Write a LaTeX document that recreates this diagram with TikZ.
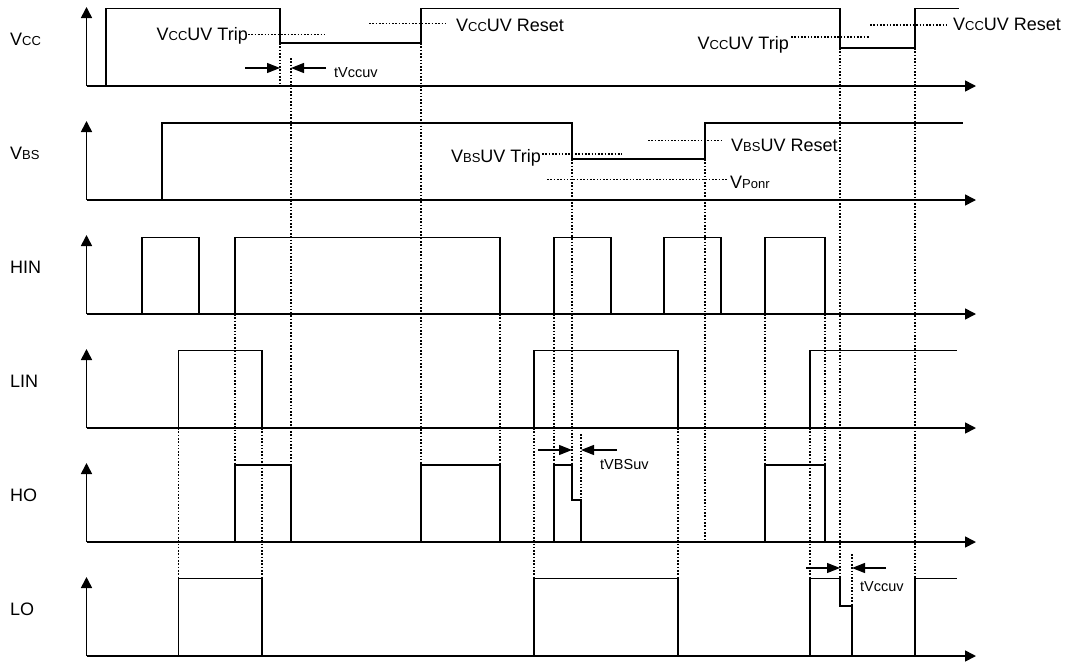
\documentclass[tikz,border=0pt]{standalone}
\usepackage{fontspec}
\setmainfont{Liberation Sans}
\usetikzlibrary{arrows.meta}
\newcommand\sm[1]{{\fontsize{13}{15}\selectfont #1}}
\tikzset{
  sig/.style={line width=1.6pt, line join=miter},
  axis/.style={line width=1.6pt, -{Triangle[length=11pt,width=11pt]}},
  guide/.style={line width=1.8pt, dash pattern=on 1.6pt off 1.7pt},
  dimarrow/.style={line width=1.3pt, -{Triangle[length=13pt,width=10pt]}},
  rowlabel/.style={font=\fontsize{18}{20}\selectfont, inner sep=0pt, anchor=base west},
  note/.style={font=\fontsize{18}{20}\selectfont, inner sep=0pt},
  tnote/.style={font=\fontsize{14.5}{16}\selectfont, inner sep=0pt, anchor=base west}
}

\begin{document}
\begin{tikzpicture}[x=1pt,y=-1pt]
\useasboundingbox (0,0) rectangle (1076,662);

% axes and row labels
\foreach \yb/\lab/\nm in {86/{V\sm{CC}}/vcc, 200/{V\sm{BS}}/vbs, 314/HIN/hin, 428/LIN/lin, 542/HO/ho, 656/LO/lo}{
  \draw[axis] (86.5,\yb) -- (976,\yb);
  \draw[axis] (86.5,\yb) -- (86.5,\yb-79);
  \node[rowlabel] (lab-\nm) at (10,\yb-41) {\lab};
}

% supply waveforms
\draw[sig] (106,86) -- (106,8.5) -- (280,8.5) -- (280,43) -- (421,43) -- (421,8.5)
  -- (840,8.5) -- (840,48) -- (915,48) -- (915,8.5) -- (959,8.5);
\draw[sig] (162,200) -- (162,123) -- (572,123) -- (572,159) -- (705,159) -- (705,123) -- (963,123);

% inputs
\foreach \a/\b in {142/199, 235/500, 554/611, 664/721, 765/825}
  \draw[sig] (\a,314) -- (\a,237.5) -- (\b,237.5) -- (\b,314);
\foreach \a/\b in {178.5/262, 534/678}
  \draw[sig] (\a,428) -- (\a,350.5) -- (\b,350.5) -- (\b,428);
\draw[sig] (810,428) -- (810,350.5) -- (957,350.5);

% outputs
\foreach \a/\b in {235/291, 421/500, 765/825}
  \draw[sig] (\a,542) -- (\a,465) -- (\b,465) -- (\b,542);
\draw[sig] (554,542) -- (554,465) -- (572,465) -- (572,500) -- (581,500) -- (581,542);
\foreach \a/\b in {178.5/262, 534/678}
  \draw[sig] (\a,656) -- (\a,578.5) -- (\b,578.5) -- (\b,656);
\draw[sig] (810,656) -- (810,578.5) -- (840,578.5) -- (840,606) -- (852,606) -- (852,656);
\draw[sig] (915,656) -- (915,578.5) -- (957,578.5);

% timing guides
\foreach \x/\ya/\yb in {178.5/428/578.5, 235/314/465, 262/428/578.5, 280/43/86,
    291/58/465, 421/43/465, 500/314/465, 534/428/578.5, 554/314/465,
    572/159/465, 581/434/500, 678/428/578.5, 705/159/542, 765/314/465,
    810/428/578.5, 825/314/465, 840/48/578.5, 852/554/606, 915/48/578.5}
  \draw[guide] (\x,\ya) -- (\x,\yb);

% threshold levels
\draw[guide] (248,34.5) -- (324,34.5);
\draw[guide] (369,23.5) -- (445,23.5);
\draw[guide] (791,37) -- (870,37);
\draw[guide] (870,25) -- (946,25);
\draw[guide] (542,154) -- (622,154);
\draw[guide] (648,140.5) -- (723,140.5);
\draw[guide] (547,179.5) -- (727,179.5);

\node[note, anchor=base east] (trip1) at (248,40) {V\sm{CC}UV Trip};
\node[note, anchor=base west] (reset1) at (456,31) {V\sm{CC}UV Reset};
\node[note, anchor=base east] (trip2) at (789,49) {V\sm{CC}UV Trip};
\node[note, anchor=base west] (reset2) at (953,30) {V\sm{CC}UV Reset};
\node[note, anchor=base east] (bstrip) at (541,162) {V\sm{BS}UV Trip};
\node[note, anchor=base west] (bsreset) at (731,151) {V\sm{BS}UV Reset};
\node[note, anchor=base west] (ponr) at (730,188) {V\sm{Ponr}};

% delay markers
\draw[dimarrow] (245,68) -- (280,68);
\draw[dimarrow] (326,68) -- (291,68);
\node[tnote] (tcc1) at (334,77) {tVccuv};
\draw[dimarrow] (538,450) -- (572,450);
\draw[dimarrow] (617,450) -- (581,450);
\node[tnote] (tbs) at (600,469) {tVBSuv};
\draw[dimarrow] (806,568) -- (840,568);
\draw[dimarrow] (886,568) -- (852,568);
\node[tnote] (tcc2) at (860,591) {tVccuv};
\end{tikzpicture}
\end{document}
